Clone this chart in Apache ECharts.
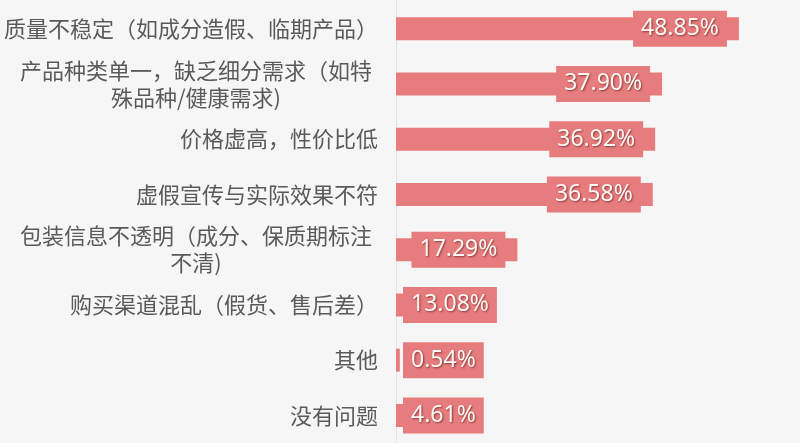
<!DOCTYPE html>
<html>
<head>
<meta charset="utf-8">
<script src="https://cdn.jsdelivr.net/npm/echarts@6/dist/echarts.min.js"></script>
<style>
  html, body { margin: 0; padding: 0; background: #f6f6f6; }
  #chart { width: 800px; height: 443px; }
</style>
</head>
<body>
<div id="chart"></div>
<script>
// 问题分类（从上到下）
const categories = [
  "质量不稳定（如成分造假、临期产品）",
  "产品种类单一，缺乏细分需求（如特\n殊品种/健康需求)",
  "价格虚高，性价比低",
  "虚假宣传与实际效果不符",
  "包装信息不透明（成分、保质期标注\n不清)",
  "购买渠道混乱（假货、售后差）",
  "其他",
  "没有问题"
];

// 占比（%）
const values = [48.85, 37.90, 36.92, 36.58, 17.29, 13.08, 0.54, 4.61];

const barColor = "#e77c7e";

const chart = echarts.init(document.getElementById("chart"));

// 小的柱子放不下标签，改成靠左
const seriesData = values.map(v => {
  if (v < 15) {
    return { value: v, label: { position: "insideLeft", distance: 7 } };
  }
  return { value: v };
});

const option = {
  backgroundColor: "#f6f6f6",
  animation: false,
  grid: {
    left: 396,
    right: 53,
    top: 1,
    bottom: -3,
    containLabel: false
  },
  xAxis: {
    type: "value",
    min: 0,
    max: 50,
    show: false
  },
  yAxis: {
    type: "category",
    data: categories,
    inverse: true,
    axisLine: { show: true, lineStyle: { color: "#e2e2e2", width: 1 } },
    axisTick: { show: false },
    axisLabel: {
      margin: 18,
      align: "right",
      fontSize: 22,
      lineHeight: 27,
      color: "#5a5a5a",
      fontFamily: "Noto Sans CJK SC",
      formatter: function (v) {
        if (v.indexOf("\n") < 0) return v;
        // 多行标签：每行居中
        return v.split("\n").map(s => "{c|" + s + "}").join("\n");
      },
      rich: {
        c: {
          width: 364,
          align: "center",
          fontSize: 22,
          lineHeight: 27,
          color: "#5a5a5a",
          fontFamily: "Noto Sans CJK SC"
        }
      }
    }
  },
  series: [
    {
      type: "bar",
      data: seriesData,
      barWidth: 23,
      itemStyle: { color: barColor },
      label: {
        show: true,
        position: "insideRight",
        distance: 12,
        formatter: p => p.value.toFixed(2) + "%",
        fontFamily: "Noto Sans",
        fontSize: 23,
        lineHeight: 22,
        color: "#fff8f4",
        backgroundColor: barColor,
        padding: [7, 8],
        textShadowColor: "rgba(60,0,0,0.55)",
        textShadowBlur: 2,
        textShadowOffsetX: 1,
        textShadowOffsetY: 1
      }
    }
  ]
};

chart.setOption(option);
</script>
</body>
</html>
